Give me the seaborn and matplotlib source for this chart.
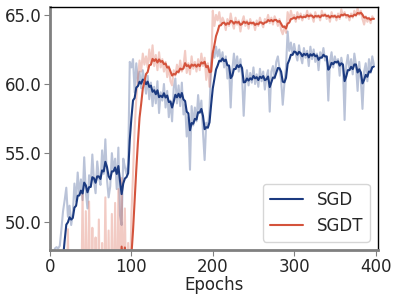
import numpy as np
import pandas as pd
import matplotlib
matplotlib.use("Agg")
import matplotlib.pyplot as plt
import seaborn as sns

# raw accuracy, one value every 2 epochs (0..398)
epochs = np.arange(0, 400, 2)

sgd_raw = [
    20.0, 42.0, 47.0, 48.1, 48.2, 48.1, 48.3, 49.5, 50.8, 51.6,
    52.5, 50.4, 51.2, 49.8, 50.6, 52.8, 51.5, 53.6, 52.0, 53.1,
    51.6, 54.7, 52.2, 51.0, 53.4, 52.6, 54.9, 53.0, 52.1, 54.4,
    53.3, 52.7, 55.2, 53.5, 56.0, 53.1, 51.8, 52.6, 55.0, 53.7,
    54.6, 52.4, 55.4, 50.5, 49.8, 54.6, 54.0, 53.5, 54.2, 61.6,
    61.2, 61.8, 59.4, 61.5, 60.1, 60.9, 59.7, 61.0, 60.2, 59.3,
    60.6, 58.9, 60.1, 58.4, 59.8, 58.6, 60.2, 57.9, 59.4, 58.8,
    60.0, 58.3, 59.5, 57.6, 58.8, 57.3, 59.7, 60.4, 58.6, 59.9,
    58.4, 60.1, 57.8, 58.5, 56.2, 57.6, 53.8, 58.4, 57.0, 58.3,
    57.3, 59.2, 57.9, 58.8, 56.5, 54.5, 57.2, 56.8, 58.1, 61.5,
    62.4, 61.9, 62.7, 62.0, 62.5, 61.6, 62.3, 61.2, 62.0, 60.4,
    61.3, 58.3, 61.0, 62.2, 61.1, 62.0, 60.9, 61.8, 60.6, 57.7,
    60.2, 61.0, 59.9, 60.8, 60.1, 61.2, 60.0, 60.7, 59.8, 61.1,
    60.2, 60.9, 59.6, 60.5, 61.0, 58.0, 60.9, 61.3, 60.4, 61.6,
    62.0, 61.1, 60.3, 58.5, 60.0, 61.2, 63.8, 62.4, 63.0, 62.1,
    62.9, 62.2, 61.7, 62.8, 62.0, 61.5, 62.6, 61.9, 62.4, 61.3,
    62.7, 61.8, 62.5, 61.6, 62.2, 61.0, 62.3, 61.9, 62.6, 61.7,
    62.0, 58.8, 61.6, 62.3, 61.2, 62.0, 61.5, 61.8, 60.6, 61.9,
    61.2, 57.4, 61.3, 62.1, 61.0, 61.8, 60.7, 62.2, 61.4, 59.5,
    61.6, 60.3, 58.2, 60.9, 61.5, 60.2, 61.8, 60.8, 62.0, 61.4,
]

sgdt_raw = [
    10.0, 25.0, 33.0, 37.0, 40.0, 41.5, 42.0, 43.5, 42.8, 44.0,
    42.0, 49.5, 41.0, 43.0, 40.5, 42.5, 41.0, 43.5, 40.8, 42.0,
    52.2, 41.5, 50.8, 42.0, 51.5, 41.2, 49.6, 40.8, 48.9, 41.6,
    50.2, 40.9, 48.5, 41.8, 51.8, 42.3, 49.4, 41.0, 50.6, 42.2,
    51.4, 41.5, 52.4, 42.8, 53.2, 44.0, 51.0, 43.0, 48.5, 44.5,
    50.5, 53.5, 56.8, 58.9, 60.4, 61.7, 60.9, 62.2, 61.4, 62.0,
    61.2, 62.5, 61.5, 62.8, 61.3, 62.1, 61.0, 62.3, 61.2, 61.8,
    60.9, 61.6, 60.5, 61.3, 60.2, 59.9, 61.0, 60.6, 61.4, 60.8,
    61.7, 60.9, 61.3, 62.4, 60.8, 61.5, 60.7, 62.0, 61.1, 61.6,
    60.9, 61.8, 61.0, 62.2, 61.3, 61.9, 60.3, 61.5, 59.8, 61.0,
    65.3, 64.2, 65.0, 64.6, 65.2, 64.3, 64.8, 64.5, 63.9, 64.7,
    64.2, 65.1, 64.4, 64.0, 64.8, 64.3, 64.6, 63.8, 64.5, 64.9,
    64.2, 64.6, 64.0, 64.7, 64.3, 64.5, 63.9, 64.6, 64.2, 64.8,
    64.4, 64.1, 64.7, 64.5, 65.0, 64.4, 64.8, 64.3, 64.9, 64.6,
    64.2, 64.7, 63.9, 63.6, 64.2, 63.7, 65.2, 64.6, 65.3, 64.8,
    65.0, 64.5, 65.2, 64.7, 65.1, 64.6, 65.0, 64.8, 65.3, 64.7,
    65.1, 64.9, 64.5, 65.2, 64.8, 65.0, 64.6, 65.3, 64.9, 65.1,
    64.7, 65.0, 64.5, 65.2, 64.8, 65.0, 64.6, 65.1, 64.7, 65.4,
    64.9, 65.2, 64.8, 65.0, 64.6, 65.1, 64.8, 65.3, 64.9, 65.5,
    65.0, 65.3, 64.7, 64.3, 64.9, 64.5, 64.8, 64.4, 64.9, 64.7,
]

df = pd.DataFrame({"epoch": epochs, "SGD": sgd_raw, "SGDT": sgdt_raw})
# exponential smoothing for the dark curves
df["SGD_s"] = df["SGD"].ewm(alpha=0.3, adjust=False).mean()
df["SGDT_s"] = df["SGDT"].ewm(alpha=0.3, adjust=False).mean()

blue = "#1b3a80"
red = "#d4533c"

sns.set_style("white")
fig = plt.figure(figsize=(3.97, 3.0), dpi=100)
ax = fig.add_axes([0.126, 0.167, 0.826, 0.811])

sns.lineplot(data=df, x="epoch", y="SGD", color=blue, alpha=0.3, lw=1.5, ax=ax)
sns.lineplot(data=df, x="epoch", y="SGDT", color=red, alpha=0.3, lw=1.5, ax=ax)
sns.lineplot(data=df, x="epoch", y="SGD_s", color=blue, lw=1.5, ax=ax, label="SGD")
sns.lineplot(data=df, x="epoch", y="SGDT_s", color=red, lw=1.5, ax=ax, label="SGDT")

ax.set_xlim(0, 403)
ax.set_ylim(48, 65.6)
ax.set_xticks([0, 100, 200, 300, 400])
ax.set_yticks([50, 55, 60, 65])
ax.set_yticklabels(["50.0", "55.0", "60.0", "65.0"])
ax.set_xlabel("Epochs", fontsize=12, labelpad=0)
ax.set_ylabel("")
ax.tick_params(labelsize=12, length=4, pad=2, color="gray", left=True, bottom=True)

for side in ["left", "bottom"]:
    ax.spines[side].set_color("gray")
    ax.spines[side].set_linewidth(2)
for side in ["top", "right"]:
    ax.spines[side].set_color("black")
    ax.spines[side].set_linewidth(1)

ax.legend(loc="lower right", fontsize=12)

fig.savefig("out.png", dpi=100)
